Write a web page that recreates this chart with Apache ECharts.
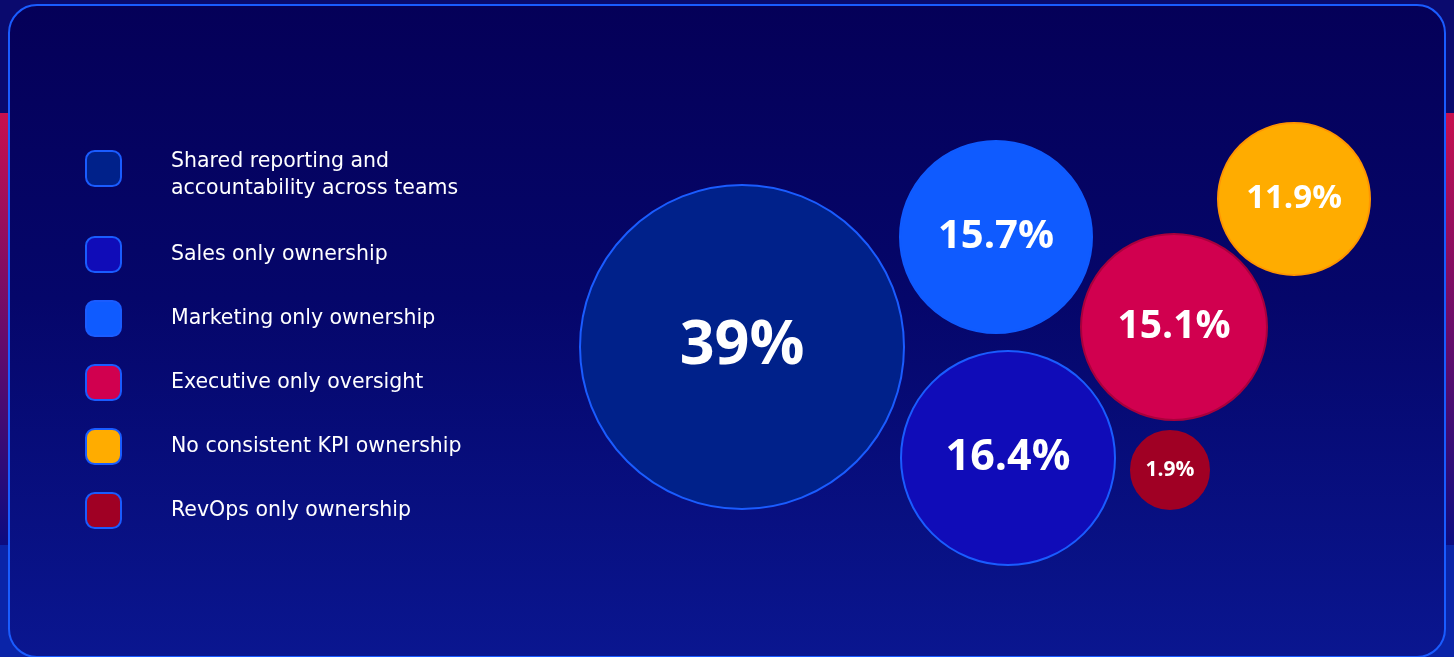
<!DOCTYPE html>
<html>
<head>
<meta charset="utf-8">
<script src="https://cdn.jsdelivr.net/npm/echarts@6/dist/echarts.min.js"></script>
<style>
html,body{margin:0;padding:0;background:#07096e;}
#chart{width:1454px;height:657px;}
</style>
</head>
<body>
<div id="chart"></div>
<script>
// ---- data ----
const categories = [
  'Shared reporting and\naccountability across teams',
  'Sales only ownership',
  'Marketing only ownership',
  'Executive only oversight',
  'No consistent KPI ownership',
  'RevOps only ownership'
];
const shares = [39, 16.4, 15.7, 15.1, 11.9, 1.9];
const valueLabels = ['39%', '16.4%', '15.7%', '15.1%', '11.9%', '1.9%'];

// ---- layout / style (not data) ----
const colors = ['#00218a', '#100cb8', '#0f5bff', '#d1004f', '#ffac00', '#a00024'];
const borderColors = ['#1a5cff', '#1a5cff', '#0f5bff', '#a8003c', '#ff9400', '#a00024'];
const bubbleCenters = [[742, 347], [1008, 458], [996, 237], [1174, 327], [1294, 199], [1170, 470]];
const bubbleDiameters = [324, 214, 192, 186, 152, 78];

const FONT = '"Open Sans", "Noto Sans", sans-serif';
const LEGEND_FONT = '"DejaVu Sans", "Open Sans", sans-serif';
const W = 1454, H = 657;

const series = categories.map((name, i) => ({
  name: name,
  type: 'scatter',
  symbol: 'circle',
  symbolSize: bubbleDiameters[i],
  itemStyle: {color: colors[i], borderColor: borderColors[i], borderWidth: 2, opacity: 1},
  label: {
    show: true,
    position: 'inside',
    formatter: valueLabels[i],
    color: '#ffffff',
    fontFamily: FONT,
    fontWeight: 'bold',
    fontSize: Math.round(bubbleDiameters[i] * 0.16 + 9)
  },
  emphasis: {disabled: true},
  data: [{value: [bubbleCenters[i][0], bubbleCenters[i][1], shares[i]]}]
}));

const option = {
  animation: false,
  backgroundColor: '#07096e',
  graphic: [
    // outside strips
    {type: 'rect', z: -10, silent: true, shape: {x: 0, y: 0, width: W, height: H}, style: {fill: '#0a0a6e'}},
    {type: 'rect', z: -10, silent: true, shape: {x: 0, y: 545, width: W, height: H - 545}, style: {fill: '#0a24a8'}},
    {type: 'rect', z: -10, silent: true, shape: {x: 0, y: 113, width: W, height: 432},
      style: {fill: {type: 'linear', x: 0, y: 0, x2: 0, y2: 1, colorStops: [
        {offset: 0, color: '#c8104f'}, {offset: 0.5, color: '#6a0c6a'}, {offset: 1, color: '#0c0c80'}]}}},
    // panel
    {type: 'rect', z: -5, silent: true,
      shape: {x: 9, y: 5, width: 1436, height: 652, r: [28, 28, 28, 28]},
      style: {
        fill: {type: 'linear', x: 0, y: 0, x2: 0, y2: 1, colorStops: [
          {offset: 0, color: '#050058'}, {offset: 0.45, color: '#05066a'}, {offset: 1, color: '#0a1690'}]},
        stroke: '#1a5cff', lineWidth: 2
      }}
  ],
  grid: {left: 0, right: 0, top: 0, bottom: 0},
  xAxis: {type: 'value', min: 0, max: W, show: false},
  yAxis: {type: 'value', min: 0, max: H, inverse: true, show: false},
  legend: {
    orient: 'vertical',
    left: 85,
    top: 128,
    padding: 0,
    itemWidth: 35,
    itemHeight: 35,
    itemGap: 27,
    icon: 'roundRect',
    selectedMode: false,
    data: categories,
    itemStyle: {borderColor: '#1a5cff', borderWidth: 2},
    formatter: function (name) {
      const lines = name.split('\n');
      if (lines.length > 1) {
        return '{top| }\n' + lines.map(l => '{t|' + l + '}').join('\n') + '\n{bot| }';
      }
      return name;
    },
    textStyle: {
      color: '#ffffff',
      fontFamily: LEGEND_FONT,
      fontSize: 20.5,
      fontWeight: 'normal',
      lineHeight: 27,
      padding: [0, 0, 0, 45],
      rich: {
        t: {color: '#ffffff', fontFamily: LEGEND_FONT, fontSize: 20.5, lineHeight: 27},
        top: {fontSize: 1, lineHeight: 20},
        bot: {fontSize: 1, lineHeight: 7}
      }
    }
  },
  series: series
};

const chart = echarts.init(document.getElementById('chart'), null, {renderer: 'canvas'});
chart.setOption(option);
</script>
</body>
</html>
